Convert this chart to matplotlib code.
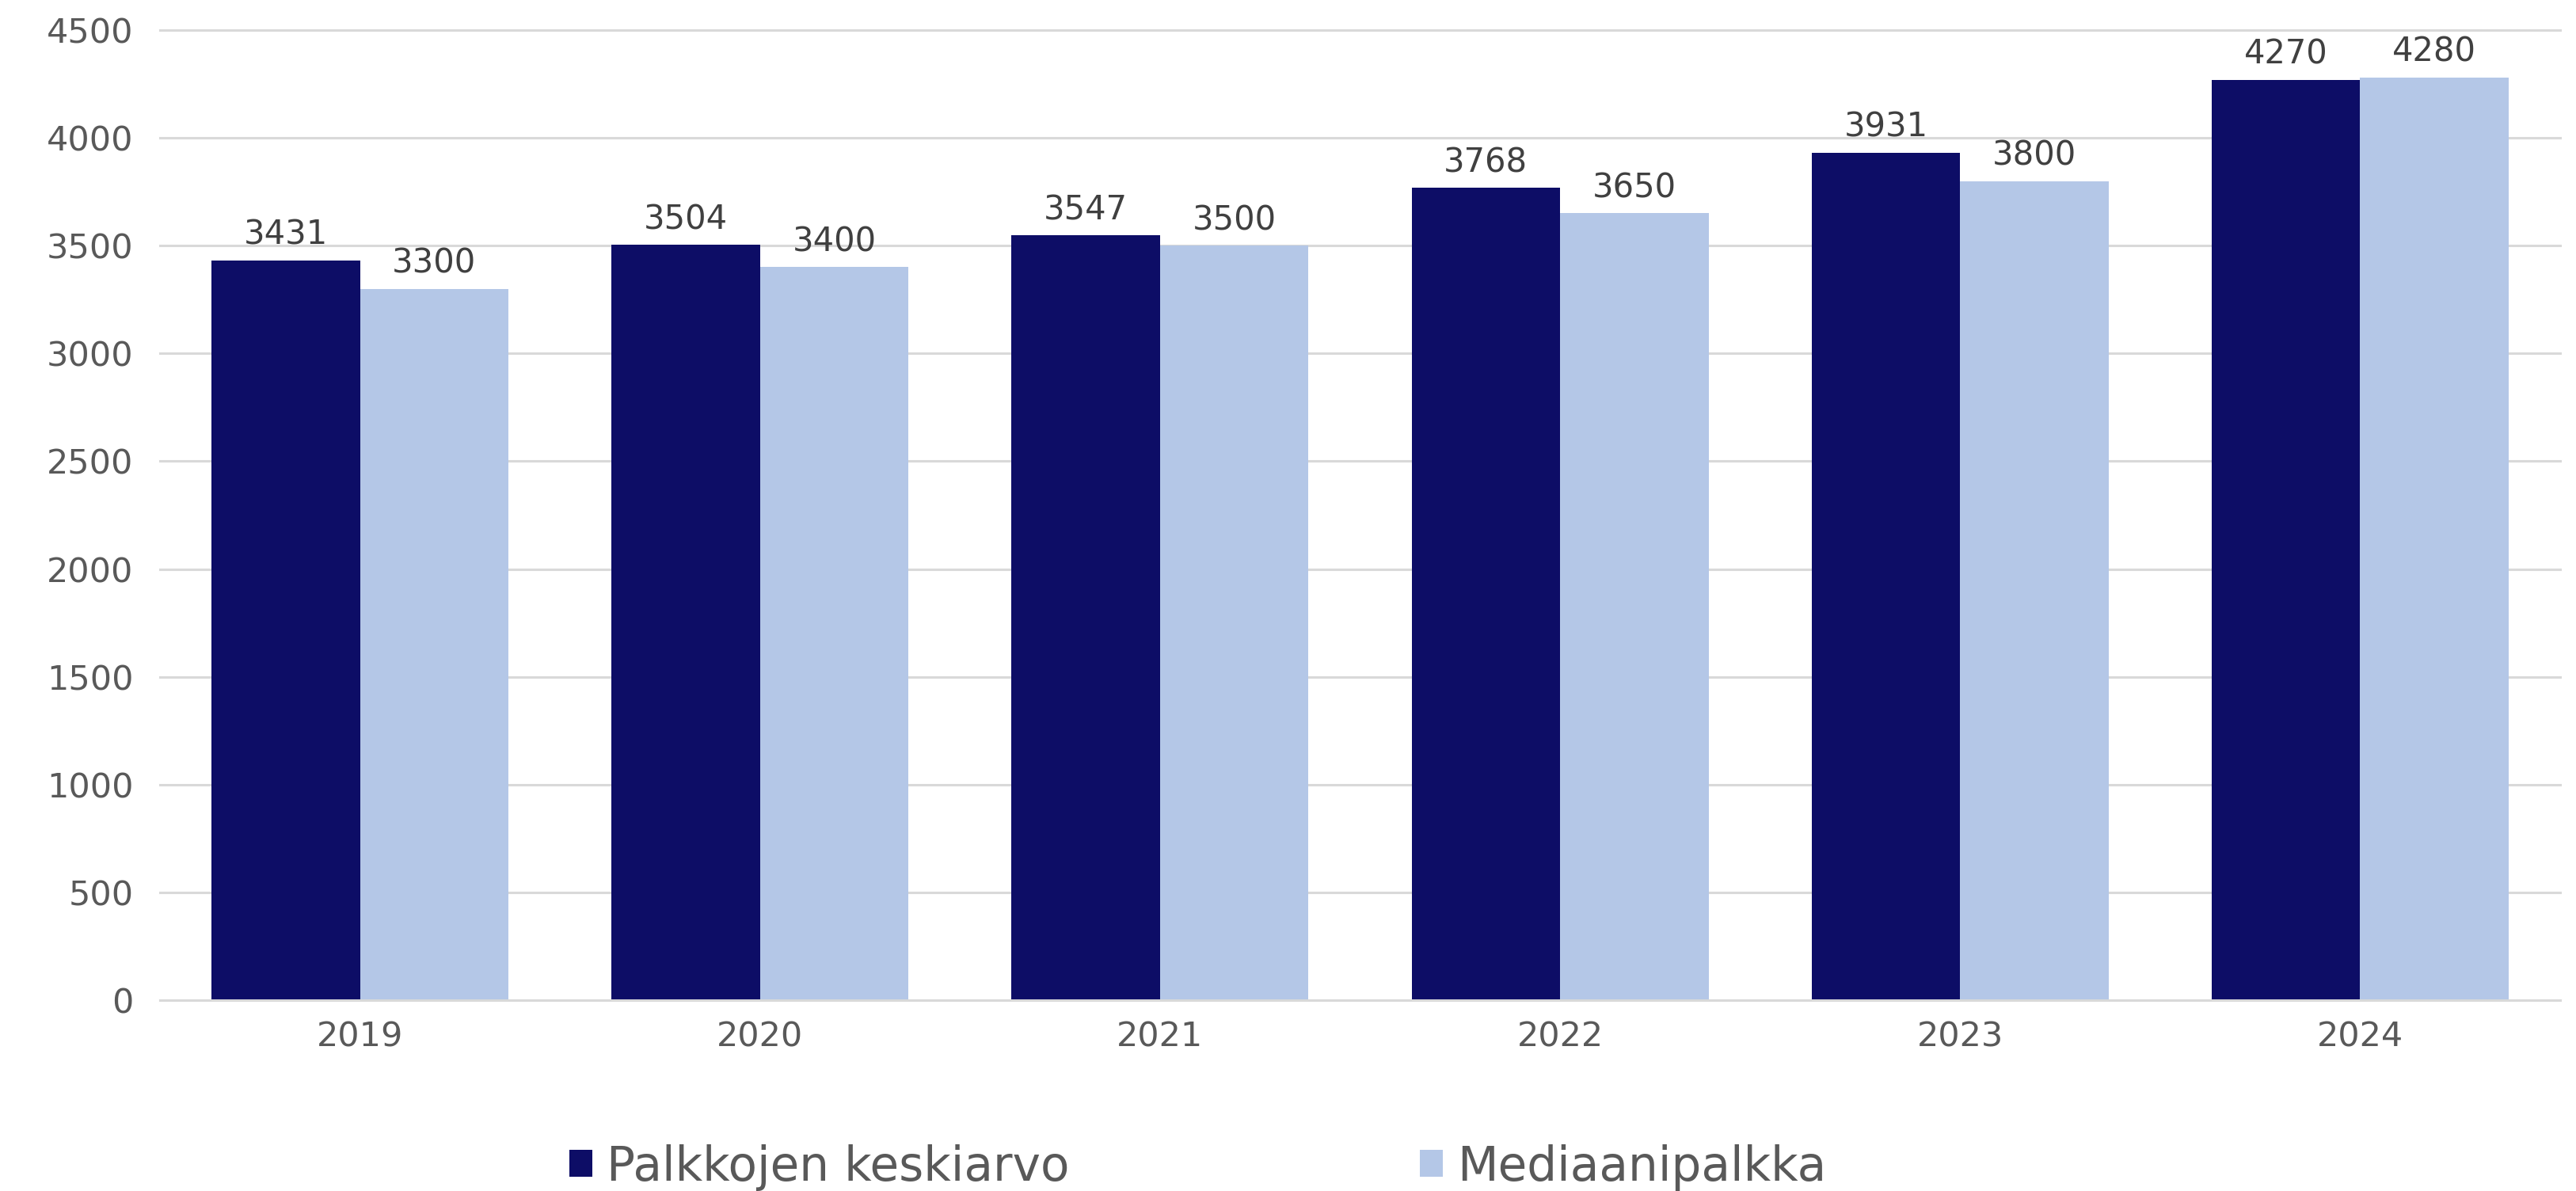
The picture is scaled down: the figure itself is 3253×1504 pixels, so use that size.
import matplotlib.pyplot as plt
import numpy as np

years = ["2019", "2020", "2021", "2022", "2023", "2024"]
keskiarvo = [3431, 3504, 3547, 3768, 3931, 4270]
mediaani = [3300, 3400, 3500, 3650, 3800, 4280]
series_names = ["Palkkojen keskiarvo", "Mediaanipalkka"]
yticks = [0, 500, 1000, 1500, 2000, 2500, 3000, 3500, 4000, 4500]

dark = "#0d0d66"
light = "#b4c7e7"

plt.rcParams['font.family'] = ['DejaVu Sans']

W, H = 3253, 1504
fig = plt.figure(figsize=(W / 100, H / 100), dpi=100)
ax = fig.add_axes([202 / W, 1 - 1263 / H, (3233 - 202) / W, (1263 - 38) / H])

x = np.arange(len(years))
w = 0.371
b1 = ax.bar(x - w / 2, keskiarvo, w, color=dark, label=series_names[0])
b2 = ax.bar(x + w / 2, mediaani, w, color=light, label=series_names[1])

for bars in (b1, b2):
    ax.bar_label(bars, padding=8, fontsize=30, color="#404040")

ax.set_xlim(-0.5, len(years) - 0.5)
ax.set_ylim(0, 4500)
ax.set_yticks(yticks)
ax.set_xticks(x)
ax.set_xticklabels(years)
ax.tick_params(axis='y', length=0, pad=24, labelsize=31, labelcolor="#595959")
ax.tick_params(axis='x', length=0, pad=18, labelsize=31, labelcolor="#595959")

ax.grid(axis='y', color="#d9d9d9", linewidth=2.2)
for gl in ax.get_ygridlines():
    gl.set_clip_on(False)
ax.set_axisbelow(True)
for s in ("top", "right", "left"):
    ax.spines[s].set_visible(False)
ax.spines["bottom"].set_color("#d9d9d9")
ax.spines["bottom"].set_linewidth(2.2)

fig.legend(loc='center left', bbox_to_anchor=(719 / W, 1 - 1474 / H), ncol=2,
           frameon=False, fontsize=43, labelcolor="#595959",
           handlelength=0.49, handleheight=0.49, handletextpad=0.3,
           columnspacing=7.4, borderpad=0, borderaxespad=0)

fig.savefig("out.png", dpi=100)
